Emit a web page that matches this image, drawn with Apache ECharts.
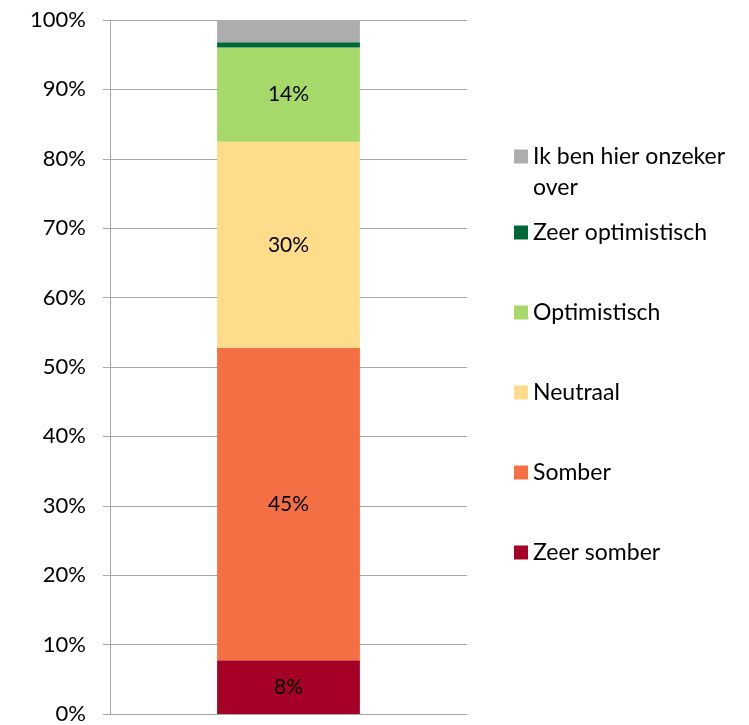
<!DOCTYPE html>
<html>
<head>
    <meta charset="UTF-8">
    <title>Stemming</title>
    <style>
        html, body { margin: 0; padding: 0; background: #fff; }
        #chart { width: 749px; height: 725px; }
    </style>
    <script src="https://cdn.jsdelivr.net/npm/echarts@6/dist/echarts.min.js"></script>
</head>
<body>
<div id="chart"></div>
<script>
    // data (percent of respondents)
    var categories = [''];
    var zeerSomber = [7.75];
    var somber = [45.0];
    var neutraal = [29.7];
    var optimistisch = [13.6];
    var zeerOptimistisch = [0.75];
    var onzeker = [3.2];
    var yTicks = [0, 10, 20, 30, 40, 50, 60, 70, 80, 90, 100];

    var font = 'Lato, "Open Sans", sans-serif';
    var grey = '#a6a6a6';

    var chart = echarts.init(document.getElementById('chart'));

    function bar(name, values, color, showLabel) {
        return {
            name: name,
            type: 'bar',
            stack: 'total',
            barWidth: '40%',
            data: values,
            itemStyle: { color: color },
            label: {
                show: showLabel,
                position: 'inside',
                color: '#000',
                fontFamily: font,
                fontSize: 21,
                formatter: function (p) { return Math.round(p.value) + '%'; }
            }
        };
    }

    var option = {
        backgroundColor: '#fff',
        animation: false,
        grid: { left: 110, right: 282, top: 20, bottom: 8 },
        legend: [
            {
                data: ['Ik ben hier onzeker over'],
                orient: 'vertical',
                left: 509,
                top: 105,
                icon: 'rect',
                itemWidth: 14,
                itemHeight: 14,
                itemGap: 0,
                selectedMode: false,
                formatter: function () { return ' \nIk ben hier onzeker\nover'; },
                textStyle: { fontFamily: font, fontSize: 23, lineHeight: 31, color: '#000' }
            },
            {
                data: ['Zeer optimistisch', 'Optimistisch', 'Neutraal', 'Somber', 'Zeer somber'],
                orient: 'vertical',
                left: 509,
                top: 212,
                icon: 'rect',
                itemWidth: 14,
                itemHeight: 14,
                itemGap: 49,
                selectedMode: false,
                textStyle: { fontFamily: font, fontSize: 23, lineHeight: 31, color: '#000' }
            }
        ],
        xAxis: {
            type: 'category',
            data: categories,
            axisLine: { show: true, lineStyle: { color: grey } },
            axisTick: { show: false },
            axisLabel: { show: false }
        },
        yAxis: {
            type: 'value',
            min: yTicks[0],
            max: yTicks[yTicks.length - 1],
            interval: 10,
            axisLine: { show: true, lineStyle: { color: grey } },
            axisTick: { show: true, length: 7, lineStyle: { color: grey } },
            splitLine: { lineStyle: { color: grey } },
            axisLabel: {
                formatter: '{value}%',
                color: '#000',
                fontFamily: font,
                fontSize: 22,
                margin: 24
            }
        },
        series: [
            bar('Zeer somber', zeerSomber, '#a50026', true),
            bar('Somber', somber, '#f46f43', true),
            bar('Neutraal', neutraal, '#fedc8b', true),
            bar('Optimistisch', optimistisch, '#a6d96a', true),
            bar('Zeer optimistisch', zeerOptimistisch, '#006837', false),
            bar('Ik ben hier onzeker over', onzeker, '#adadad', false)
        ]
    };

    chart.setOption(option);
</script>
</body>
</html>
